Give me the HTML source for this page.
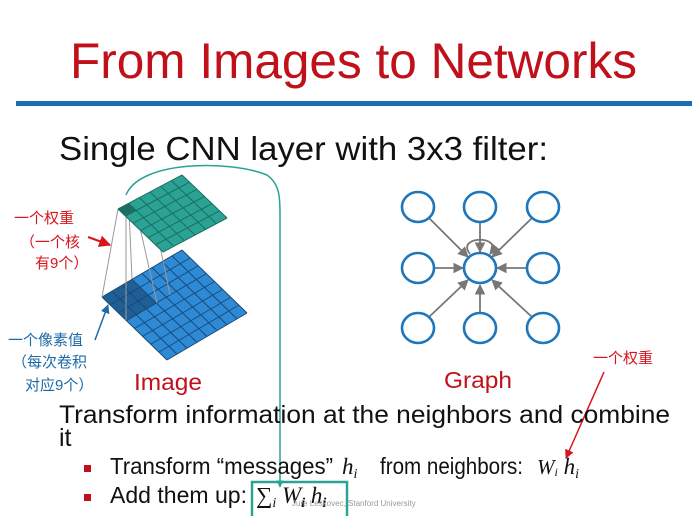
<!DOCTYPE html>
<html><head><meta charset="utf-8"><style>
body{margin:0;background:#fff;width:700px;height:516px;overflow:hidden}
svg{display:block}
</style></head><body>
<svg width="700" height="516" viewBox="0 0 700 516" xmlns="http://www.w3.org/2000/svg">
<defs>
<marker id="ag" viewBox="0 0 10 10" refX="9" refY="5" markerWidth="6" markerHeight="6" orient="auto"><path d="M0,0L10,5L0,10z" fill="#777"/></marker>
<marker id="ar" viewBox="0 0 10 10" refX="9" refY="5" markerWidth="6" markerHeight="6" orient="auto"><path d="M0,0L10,5L0,10z" fill="#d8141c"/></marker>
<marker id="ab" viewBox="0 0 10 10" refX="9" refY="5" markerWidth="6" markerHeight="6" orient="auto"><path d="M0,0L10,5L0,10z" fill="#1e6aa8"/></marker>
<marker id="at" viewBox="0 0 10 10" refX="9" refY="5" markerWidth="5" markerHeight="5" orient="auto"><path d="M0,0L10,5L0,10z" fill="#2aa394"/></marker>
</defs>
<g font-family="Liberation Sans, sans-serif">
<text x="70" y="78" font-size="50" fill="#c0111b" textLength="567" lengthAdjust="spacingAndGlyphs">From Images to Networks</text>
<rect x="16" y="101" width="676" height="5" fill="#1a6eb4"/>
<text x="59" y="160" font-size="33" fill="#111" textLength="489" lengthAdjust="spacingAndGlyphs">Single CNN layer with 3x3 filter:</text>

<g transform="matrix(10,-5.875,8.125,7.875,102,297)">
<rect x="0" y="0" width="8" height="8" fill="#2f8ad6"/>
<rect x="0" y="0" width="3" height="3" fill="#1f5f96"/>
<path vector-effect="non-scaling-stroke" stroke="#184a78" stroke-width="1" fill="none" d="M0,0V8M1,0V8M2,0V8M3,0V8M4,0V8M5,0V8M6,0V8M7,0V8M8,0V8M0,0H8M0,1H8M0,2H8M0,3H8M0,4H8M0,5H8M0,6H8M0,7H8M0,8H8"/>
</g>
<g stroke="#999" stroke-width="1">
<line x1="118" y1="209" x2="102" y2="297"/>
<line x1="128.7" y1="203" x2="132" y2="279"/>
<line x1="126" y1="216" x2="126" y2="320"/>
<line x1="136" y1="210" x2="157" y2="303"/>
<line x1="150" y1="197" x2="170" y2="295"/>
</g>
<g transform="matrix(10.67,-5.67,7.5,7.17,118,209)">
<rect x="0" y="0" width="6" height="6" fill="#2aa394"/>
<rect x="0" y="0" width="1" height="1" fill="#1a6e63"/>
<path vector-effect="non-scaling-stroke" stroke="#1a6e63" stroke-width="1" fill="none" d="M0,0V6M1,0V6M2,0V6M3,0V6M4,0V6M5,0V6M6,0V6M0,0H6M0,1H6M0,2H6M0,3H6M0,4H6M0,5H6M0,6H6"/>
</g>
<path d="M126,195 C140,160 230,160 267,175 C281,185 280,200 280,220 L280,487" stroke="#2aa394" stroke-width="1.5" fill="none" marker-end="url(#at)"/>
<rect x="252" y="482" width="95" height="40" fill="none" stroke="#2aa394" stroke-width="2.5"/>

<g font-family="Liberation Sans, Noto Sans CJK SC, sans-serif" font-size="15">
<text x="14" y="223" fill="#d8141c">一个权重</text>
<text x="20" y="247" fill="#d8141c">（一个核</text>
<text x="35" y="268" fill="#d8141c">有9个）</text>
<text x="8" y="345" fill="#1e6aa8">一个像素值</text>
<text x="12" y="367" fill="#1e6aa8">（每次卷积</text>
<text x="25" y="390" fill="#1e6aa8">对应9个）</text>
<text x="593" y="363" fill="#d8141c">一个权重</text>
</g>
<line x1="88" y1="237" x2="110" y2="245" stroke="#d8141c" stroke-width="2" marker-end="url(#ar)"/>
<line x1="95" y1="340" x2="108" y2="305" stroke="#1e6aa8" stroke-width="1.5" marker-end="url(#ab)"/>
<line x1="604" y1="372" x2="566" y2="458" stroke="#d8141c" stroke-width="1.5" marker-end="url(#ar)"/>

<g stroke="#777" stroke-width="1.8" fill="none" marker-end="url(#ag)">
<line x1="429" y1="218" x2="468" y2="257"/>
<line x1="480" y1="222" x2="480" y2="252"/>
<line x1="532" y1="218" x2="492" y2="257"/>
<line x1="434" y1="268" x2="463" y2="268"/>
<line x1="527" y1="268" x2="497" y2="268"/>
<line x1="429" y1="317" x2="468" y2="280"/>
<line x1="480" y1="313" x2="480" y2="285"/>
<line x1="532" y1="317" x2="492" y2="280"/>
<path d="M470,254 C455,235 505,235 490,254"/>
</g>
<g fill="#fff" stroke="#1e76bb" stroke-width="2.6">
<ellipse cx="418" cy="207" rx="16" ry="15"/><ellipse cx="480" cy="207" rx="16" ry="15"/><ellipse cx="543" cy="207" rx="16" ry="15"/>
<ellipse cx="418" cy="268" rx="16" ry="15"/><ellipse cx="480" cy="268" rx="16" ry="15"/><ellipse cx="543" cy="268" rx="16" ry="15"/>
<ellipse cx="418" cy="328" rx="16" ry="15"/><ellipse cx="480" cy="328" rx="16" ry="15"/><ellipse cx="543" cy="328" rx="16" ry="15"/>
</g>

<text x="134" y="390" font-size="23" fill="#c0111b" textLength="68" lengthAdjust="spacingAndGlyphs">Image</text>
<text x="444" y="388" font-size="23" fill="#c0111b" textLength="68" lengthAdjust="spacingAndGlyphs">Graph</text>

<text x="59" y="423" font-size="25" fill="#111" textLength="611" lengthAdjust="spacingAndGlyphs">Transform information at the neighbors and combine</text>
<text x="59" y="446" font-size="25" fill="#111">it</text>
<rect x="84" y="465" width="7" height="7" fill="#c0111b"/>
<rect x="84" y="494" width="7" height="7" fill="#c0111b"/>
<text x="110" y="474" font-size="23" fill="#111" textLength="223" lengthAdjust="spacingAndGlyphs">Transform “messages”</text>
<text x="342" y="474" font-size="23" fill="#111" font-family="Liberation Serif, serif" font-style="italic">h<tspan font-size="14" dy="4">i</tspan></text>
<text x="380" y="474" font-size="23" fill="#111" textLength="143" lengthAdjust="spacingAndGlyphs">from neighbors:</text>
<text x="537" y="474" font-size="21" fill="#111" font-family="Liberation Serif, serif" font-style="italic">W<tspan font-size="12" dy="2">i</tspan><tspan dy="-2" font-size="23"> h</tspan><tspan font-size="14" dy="4">i</tspan></text>
<text x="110" y="503" font-size="23" fill="#111" textLength="137" lengthAdjust="spacingAndGlyphs">Add them up:</text>
<text x="256" y="503" font-size="23" fill="#111" font-family="Liberation Serif, serif">∑<tspan font-style="italic" font-size="14" dy="4">i</tspan><tspan font-style="italic" dy="-4"> W</tspan><tspan font-style="italic" font-weight="bold" font-size="14" dy="4">i</tspan><tspan font-style="italic" dy="-4"> h</tspan><tspan font-style="italic" font-weight="bold" font-size="14" dy="4">i</tspan></text>
<text x="292" y="506" font-size="8" fill="#999">Jure Leskovec, Stanford University</text>
</g>
</svg>
</body></html>
